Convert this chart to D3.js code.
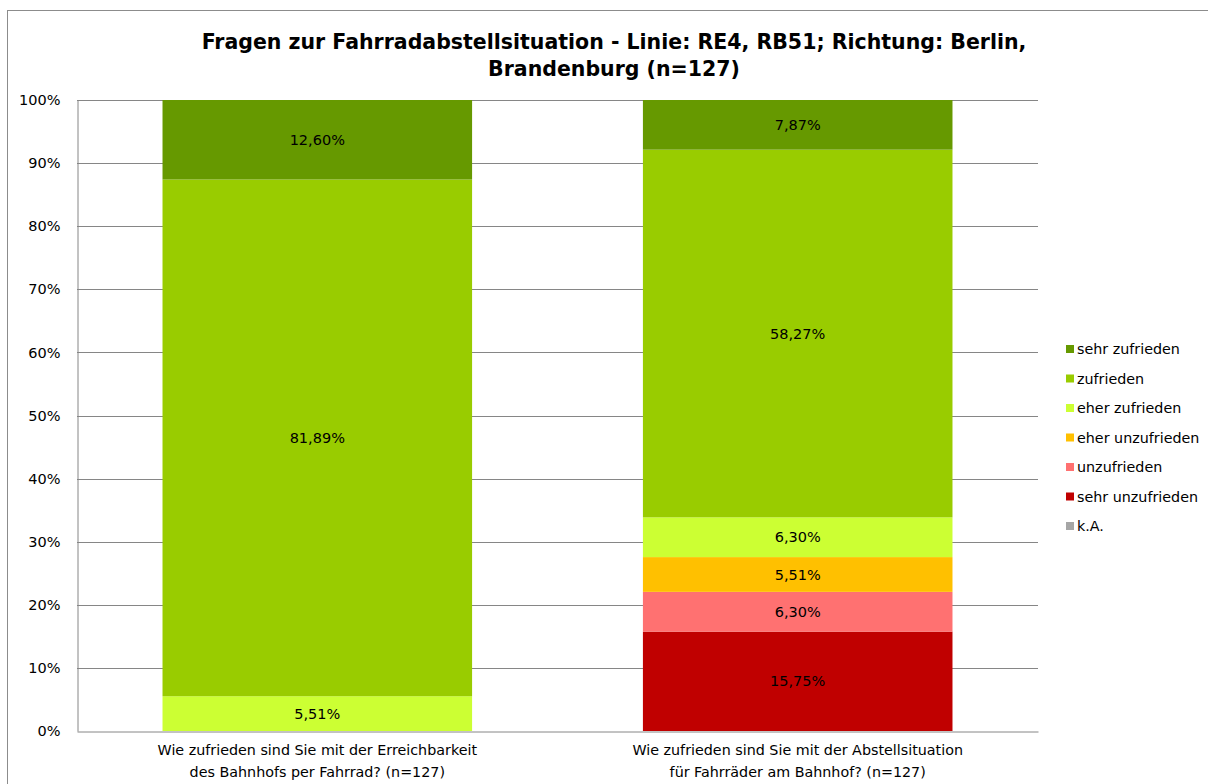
<!DOCTYPE html>
<html><head><meta charset="utf-8">
<script src="https://cdn.jsdelivr.net/npm/d3@7"></script>
<style>body{margin:0;background:#fff;} svg{display:block;font-family:"DejaVu Sans",Verdana,sans-serif;}</style>
</head><body>
<svg id="c" width="1208" height="784"></svg>
<script>
const title = ["Fragen zur Fahrradabstellsituation - Linie: RE4, RB51; Richtung: Berlin,", "Brandenburg (n=127)"];
const categories = [
  ["Wie zufrieden sind Sie mit der Erreichbarkeit", "des Bahnhofs per Fahrrad? (n=127)"],
  ["Wie zufrieden sind Sie mit der Abstellsituation", "für Fahrräder am Bahnhof? (n=127)"]
];
const seriesNames = ["k.A.", "sehr unzufrieden", "unzufrieden", "eher unzufrieden", "eher zufrieden", "zufrieden", "sehr zufrieden"];
const seriesColors = ["#A6A6A6", "#C00000", "#FF7171", "#FFC000", "#CCFF33", "#99CC00", "#669900"];
const kA = [0, 0];
const sehrUnzufrieden = [0, 15.75];
const unzufrieden = [0, 6.30];
const eherUnzufrieden = [0, 5.51];
const eherZufrieden = [5.51, 6.30];
const zufrieden = [81.89, 58.27];
const sehrZufrieden = [12.60, 7.87];
const yTicks = [0, 10, 20, 30, 40, 50, 60, 70, 80, 90, 100];

const seriesValues = [kA, sehrUnzufrieden, unzufrieden, eherUnzufrieden, eherZufrieden, zufrieden, sehrZufrieden];
const rows = categories.map((c, i) => {
  const r = {cat: i};
  seriesNames.forEach((s, j) => r[s] = seriesValues[j][i]);
  return r;
});

const svg = d3.select("#c");
svg.append("rect").attr("x", 7.5).attr("y", 10.5).attr("width", 1220).attr("height", 800)
  .attr("fill", "#fff").attr("stroke", "#8c8c8c").attr("stroke-width", 1);

const L = 77, R = 1038, T = 100, B = 731;
const x = d3.scaleBand().domain([0, 1]).range([L, R]).paddingInner(0.3556).paddingOuter(0.178);
const y = d3.scaleLinear().domain([0, 100]).range([B, T]);

svg.append("g").selectAll("line").data(yTicks.filter(t => t > 0)).join("line")
  .attr("x1", L).attr("x2", R).attr("y1", d => Math.round(y(d)) + 0.5).attr("y2", d => Math.round(y(d)) + 0.5)
  .attr("stroke", "#868686");

const yAxis = svg.append("g").attr("transform", `translate(${L + 0.5},0)`)
  .call(d3.axisLeft(y).tickValues(yTicks).tickFormat(d => d + "%").tickSize(0).tickPadding(17));
yAxis.select(".domain").attr("stroke", "#868686");
yAxis.selectAll("text").attr("font-size", 14.5).attr("fill", "#000")
  .attr("font-family", "DejaVu Sans, Verdana, sans-serif");

const stack = d3.stack().keys(seriesNames)(rows);
const g = svg.append("g");
stack.forEach((s, j) => {
  g.selectAll(null).data(s).join("rect")
    .attr("x", d => x(d.data.cat))
    .attr("width", x.bandwidth())
    .attr("y", d => y(d[1]))
    .attr("height", d => y(d[0]) - y(d[1]))
    .attr("fill", seriesColors[j]);
  g.selectAll(null).data(s.filter(d => d[1] - d[0] > 0)).join("text")
    .attr("x", d => x(d.data.cat) + x.bandwidth() / 2)
    .attr("y", d => (y(d[0]) + y(d[1])) / 2)
    .attr("dy", "0.35em")
    .attr("text-anchor", "middle")
    .attr("font-size", 14.5)
    .attr("fill", "#000")
    .text(d => (d[1] - d[0]).toFixed(2).replace(".", ",") + "%");
});

const xAxis = svg.append("g").attr("transform", `translate(0,${B + 0.5})`)
  .call(d3.axisBottom(x).tickSize(0).tickFormat(""));
xAxis.select(".domain").attr("stroke", "#868686");

categories.forEach((lines, i) => {
  const t = svg.append("text").attr("text-anchor", "middle").attr("font-size", 14.3).attr("fill", "#000");
  lines.forEach((ln, k) => t.append("tspan").attr("x", x(i) + x.bandwidth() / 2).attr("y", 755 + k * 22).text(ln));
});

const tt = svg.append("text").attr("text-anchor", "middle").attr("font-size", 20.5).attr("font-weight", "bold").attr("fill", "#000");
title.forEach((ln, k) => tt.append("tspan").attr("x", 614).attr("y", 49 + k * 27).text(ln));

const legendItems = seriesNames.map((n, j) => ({n, c: seriesColors[j]})).reverse();
const lg = svg.append("g");
legendItems.forEach((d, k) => {
  const yy = 349 + k * 29.5;
  lg.append("rect").attr("x", 1066).attr("y", yy - 4).attr("width", 8).attr("height", 8).attr("fill", d.c);
  lg.append("text").attr("x", 1077).attr("y", yy).attr("dy", "0.35em").attr("font-size", 14.3).attr("fill", "#000").text(d.n);
});
</script>
</body></html>
